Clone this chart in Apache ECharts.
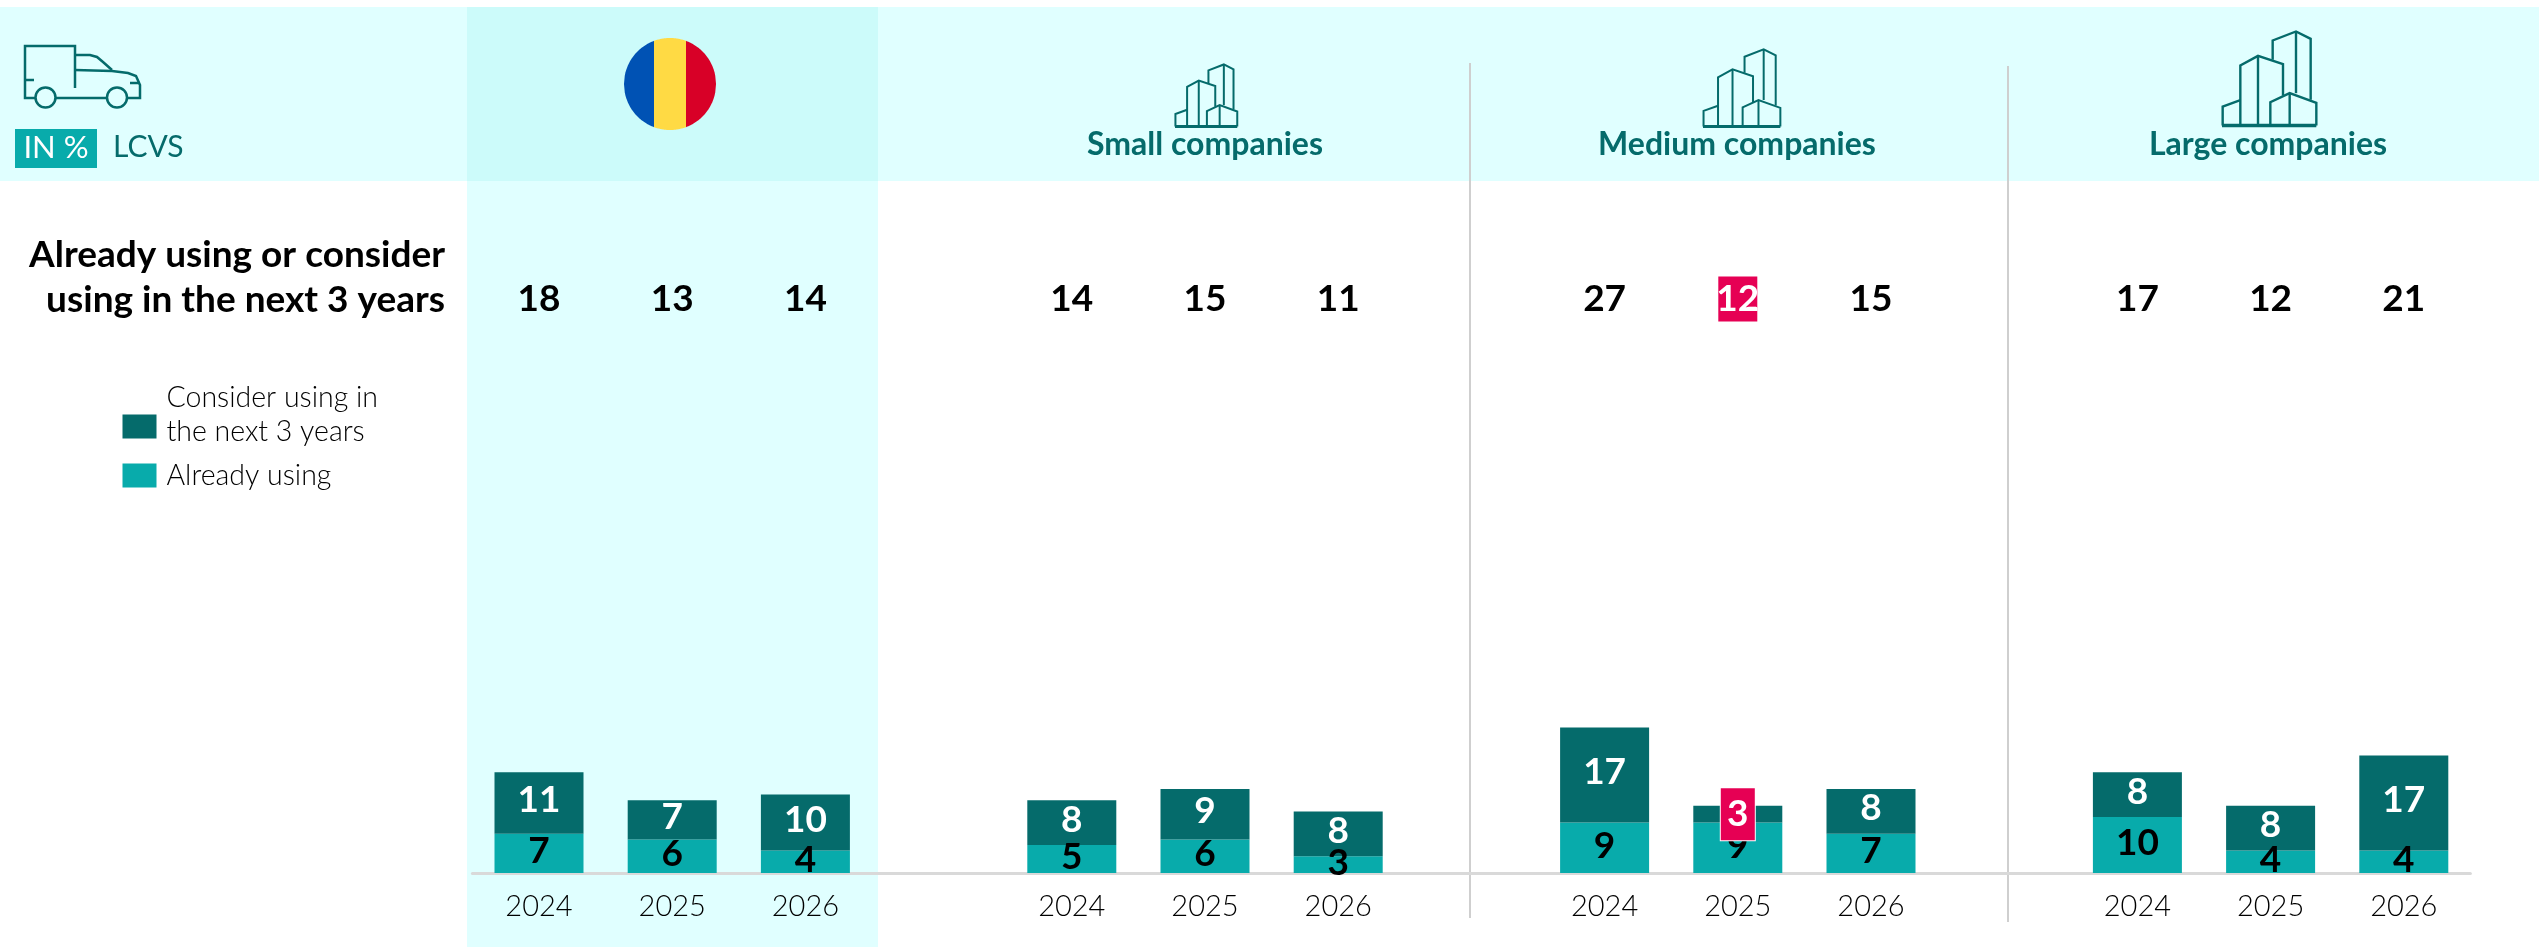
<!DOCTYPE html>
<html><head><meta charset="utf-8">
<style>html,body{margin:0;padding:0;background:#fff}#c{width:2539px;height:947px}</style>
<script src="https://cdn.jsdelivr.net/npm/echarts@6/dist/echarts.min.js"></script>
</head><body><div id="c"></div>
<script>
const categories = ['2024','2025','2026','','2024','2025','2026','','2024','2025','2026','','2024','2025','2026'];
const alreadyUsing = [7,6,4,null,5,6,3,null,9,9,7,null,10,4,4];
const considerUsing = [11,7,10,null,8,9,8,null,17,3,8,null,8,8,17];
const totals = [18,13,14,null,14,15,11,null,27,12,15,null,17,12,21];
const highlighted = [9];
const segments = ['Small companies','Medium companies','Large companies'];
const legendConsider = 'Consider using in\nthe next 3 years';
const legendAlready = 'Already using';

const FONT = 'Lato,"Liberation Sans",sans-serif';
const TEAL='#08abab', DARK='#056b6b', RED='#e60054', BAND='#e0ffff', BAND2='#ccfbfa';
const chart = echarts.init(document.getElementById('c'),null,{renderer:'canvas'});

const line=(pts,w,z)=>({type:'polyline',z:z||5,shape:{points:pts},style:{stroke:DARK,lineWidth:w||2.5,fill:null,lineJoin:'miter'}});
function building(x0,yb,s){
  const P=(a)=>a.map(p=>[x0+(p[0]-35)/3*s,yb+(p[1]-302)/3*s]);
  const w=Math.max(2,2.4*s);
  return [
    [[35,302],[318,302]],
    [[37,302],[37,245],[90,226]],
    [[90,302],[90,122],[143,93],[218,118],[218,212]],
    [[143,93],[143,302]],
    [[187,105],[187,47],[257,20],[301,42],[301,225]],
    [[257,20],[257,205]],
    [[180,302],[180,232],[238,205],[318,234],[318,302]],
    [[238,205],[238,302]]
  ].map((a,i)=>line(P(a),i===0?w+1:w));
}
function flag(cx,cy,r){
  const stripes=[[-r,-16,'#0052b4'],[-16,16,'#ffda44'],[16,r,'#d80027']];
  return stripes.map(([a,b,c])=>{
    const pts=[];
    for(let x=a;x<=b+0.001;x+=(b-a)/40){pts.push([cx+x,cy-Math.sqrt(Math.max(0,r*r-x*x))]);}
    for(let x=b;x>=a-0.001;x-=(b-a)/40){pts.push([cx+x,cy+Math.sqrt(Math.max(0,r*r-x*x))]);}
    return {type:'polygon',z:5,shape:{points:pts},style:{fill:c}};
  });
}
const txt=(x,y,t,size,color,align,weight)=>({type:'text',z:6,x,y,style:{text:t,fill:color,font:`${weight||'normal'} ${size}px ${FONT}`,align:align||'left',verticalAlign:'middle',lineHeight:45}});
const graphics=[
  {type:'rect',z:-10,shape:{x:0,y:7,width:2539,height:174},style:{fill:BAND}},
  {type:'rect',z:-9,shape:{x:467,y:7,width:411,height:174},style:{fill:BAND2}},
  {type:'rect',z:-9,shape:{x:467,y:181,width:411,height:766},style:{fill:BAND}},
  {type:'line',z:-5,shape:{x1:1470,y1:63,x2:1470,y2:918},style:{stroke:'#cfcfcf',lineWidth:2}},
  {type:'line',z:-5,shape:{x1:2008,y1:66,x2:2008,y2:922},style:{stroke:'#cfcfcf',lineWidth:2}},
  // truck
  line([[75,88],[75,46],[25,46],[25,98],[36,98]]),
  line([[56,98],[107,98]]),
  line([[127,98],[140,98],[140,85],[136,76],[128,73],[112,71],[75,70]]),
  line([[75,55],[90,55],[97,57],[103,62],[112,70]]),
  line([[25,80],[34,80]]),
  line([[130,83],[140,83]]),
  {type:'circle',z:5,shape:{cx:45.5,cy:97.5,r:10},style:{stroke:DARK,lineWidth:2.5,fill:null}},
  {type:'circle',z:5,shape:{cx:117,cy:97.5,r:10},style:{stroke:DARK,lineWidth:2.5,fill:null}},
  {type:'rect',z:4,shape:{x:15,y:129,width:82,height:39},style:{fill:TEAL}},
  txt(56,148,'IN %',31,'#fff','center','normal'),
  txt(113,147,'LCVS',30,DARK,'left','normal'),
  txt(445,278,'Already using or consider\nusing in the next 3 years',37,'#000','right','bold'),
  txt(1205,145,segments[0],32,DARK,'center','bold'),
  txt(1737,145,segments[1],32,DARK,'center','bold'),
  txt(2268,145,segments[2],32,DARK,'center','bold'),
  ...flag(670,84,46),
  ...building(1175,126.5,0.66),
  ...building(1703,126.5,0.82),
  ...building(2222,125.5,1)
];
const legendBase={orient:'vertical',itemWidth:34,itemHeight:24,icon:'rect',selectedMode:false,padding:0,left:122.5,textStyle:{fontFamily:FONT,fontSize:28.5,fontWeight:300,color:'#000',padding:[0,0,0,5]}};
const option={
  animation:false,
  backgroundColor:'#fff',
  textStyle:{fontFamily:FONT},
  graphic:{elements:graphics},
  grid:[
    {left:472.4,width:1998,top:705,height:168},
    {left:472.4,width:1998,top:279,height:40}
  ],
  legend:[
    {...legendBase,top:383,data:['Consider'],formatter:()=>legendConsider.split('\n').map(s=>`{a|${s}}`).join('\n')+'\n{b| }',
     textStyle:{...legendBase.textStyle,rich:{a:{fontFamily:FONT,fontSize:28.5,fontWeight:300,color:'#000',lineHeight:34},b:{fontSize:10,lineHeight:24}}}},
    {...legendBase,top:461,data:['Already'],formatter:()=>legendAlready}
  ],
  xAxis:[
    {type:'category',gridIndex:0,data:categories,offset:1,z:1,axisTick:{show:false},
     axisLine:{lineStyle:{color:'#d9d9d9',width:3}},
     axisLabel:{interval:0,color:'#000',fontFamily:FONT,fontSize:29,fontWeight:300,margin:18}},
    {type:'category',gridIndex:1,data:categories,show:false}
  ],
  yAxis:[
    {type:'value',gridIndex:0,min:0,max:30,show:false},
    {type:'value',gridIndex:1,min:0,max:2,show:false}
  ],
  series:[
    {name:'Already',type:'bar',stack:'a',xAxisIndex:0,yAxisIndex:0,barWidth:89,z:2,itemStyle:{color:TEAL},data:alreadyUsing,
     label:{show:true,position:'inside',color:'#000',fontFamily:FONT,fontSize:37,fontWeight:'bold',offset:[0,-2]}},
    {name:'Consider',type:'bar',stack:'a',xAxisIndex:0,yAxisIndex:0,barWidth:89,z:2,itemStyle:{color:DARK},
     data:considerUsing.map((v,i)=>highlighted.includes(i)?{value:v,label:{backgroundColor:RED,borderColor:'#fff',borderWidth:1,width:34,height:52,align:'center',verticalAlign:'middle',lineHeight:48,offset:[0,0]}}:v),
     label:{show:true,position:'inside',color:'#fff',fontFamily:FONT,fontSize:37,fontWeight:'bold',offset:[0,-3]}},
    {name:'Total',type:'scatter',xAxisIndex:1,yAxisIndex:1,symbolSize:1,itemStyle:{color:'rgba(0,0,0,0)',opacity:1},z:3,
     data:totals.map((t,i)=>t==null?null:{value:[i,1],label:highlighted.includes(i)?{color:'#fff',backgroundColor:RED,width:39,height:45,align:'center',verticalAlign:'middle',lineHeight:45}:{}}),
     label:{show:true,position:'inside',color:'#000',fontFamily:FONT,fontSize:37,fontWeight:'bold',formatter:p=>totals[p.dataIndex]}}
  ]
};
chart.setOption(option);
</script></body></html>
